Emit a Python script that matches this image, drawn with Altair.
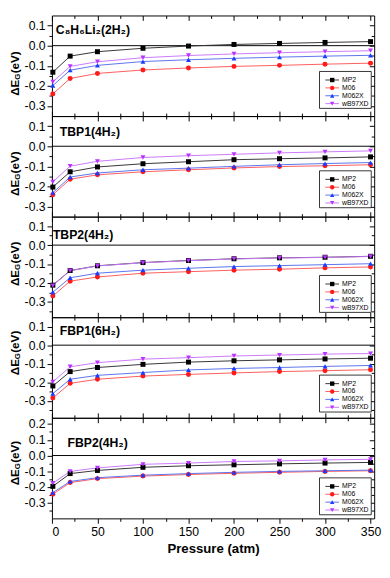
import altair as alt
import pandas as pd

PRESSURE = [1, 20, 50, 100, 150, 200, 250, 300, 350]
METHODS = ["MP2", "M06", "M062X", "wB97XD"]
PANEL_TITLES = ["C\u2088H\u2086Li\u2082(2H\u2082)", "TBP1(4H\u2082)", "TBP2(4H\u2082)",
                "FBP1(6H\u2082)", "FBP2(4H\u2082)"]
X_MAJOR = [0, 50, 100, 150, 200, 250, 300, 350]
X_MINOR = [25, 75, 125, 175, 225, 275, 325]

# panel 1: C8H6Li2(2H2)
P1_MP2 = [-0.132, -0.052, -0.030, -0.013, -0.002, 0.006, 0.011, 0.016, 0.020]
P1_M06 = [-0.240, -0.163, -0.138, -0.121, -0.111, -0.103, -0.098, -0.092, -0.087]
P1_M062X = [-0.198, -0.122, -0.098, -0.079, -0.070, -0.063, -0.057, -0.052, -0.048]
P1_WB97XD = [-0.180, -0.103, -0.080, -0.060, -0.049, -0.041, -0.035, -0.030, -0.025]
# panel 2: TBP1(4H2)
P2_MP2 = [-0.203, -0.127, -0.103, -0.087, -0.077, -0.067, -0.062, -0.058, -0.053]
P2_M06 = [-0.241, -0.164, -0.142, -0.127, -0.117, -0.108, -0.101, -0.097, -0.092]
P2_M062X = [-0.231, -0.153, -0.133, -0.117, -0.109, -0.100, -0.092, -0.086, -0.081]
P2_WB97XD = [-0.177, -0.099, -0.075, -0.056, -0.047, -0.040, -0.033, -0.028, -0.023]
# panel 3: TBP2(4H2)
P3_MP2 = [-0.211, -0.134, -0.109, -0.092, -0.081, -0.072, -0.067, -0.064, -0.059]
P3_M06 = [-0.268, -0.190, -0.168, -0.148, -0.140, -0.132, -0.127, -0.120, -0.115]
P3_M062X = [-0.248, -0.172, -0.148, -0.132, -0.122, -0.113, -0.108, -0.103, -0.098]
P3_WB97XD = [-0.213, -0.135, -0.110, -0.093, -0.082, -0.073, -0.068, -0.065, -0.060]
# panel 4: FBP1(6H2)
P4_MP2 = [-0.219, -0.142, -0.120, -0.103, -0.091, -0.084, -0.079, -0.074, -0.070]
P4_M06 = [-0.284, -0.205, -0.183, -0.166, -0.157, -0.149, -0.142, -0.137, -0.132]
P4_M062X = [-0.260, -0.183, -0.162, -0.147, -0.133, -0.125, -0.120, -0.114, -0.109]
P4_WB97XD = [-0.197, -0.116, -0.094, -0.075, -0.067, -0.058, -0.053, -0.048, -0.045]
# panel 5: FBP2(4H2)
P5_MP2 = [-0.196, -0.115, -0.095, -0.075, -0.065, -0.059, -0.053, -0.048, -0.044]
P5_M06 = [-0.246, -0.172, -0.147, -0.131, -0.121, -0.113, -0.107, -0.101, -0.097]
P5_M062X = [-0.236, -0.165, -0.141, -0.125, -0.115, -0.107, -0.101, -0.097, -0.093]
P5_WB97XD = [-0.176, -0.101, -0.079, -0.056, -0.048, -0.038, -0.034, -0.028, -0.024]

PANELS = [
    [P1_MP2, P1_M06, P1_M062X, P1_WB97XD],
    [P2_MP2, P2_M06, P2_M062X, P2_WB97XD],
    [P3_MP2, P3_M06, P3_M062X, P3_WB97XD],
    [P4_MP2, P4_M06, P4_M062X, P4_WB97XD],
    [P5_MP2, P5_M06, P5_M062X, P5_WB97XD],
]
Y_DOMAINS = [[-0.35, 0.15], [-0.35, 0.15], [-0.38, 0.15], [-0.39, 0.15], [-0.40, 0.24]]
Y_MAJOR = [[-0.3, -0.2, -0.1, 0.0, 0.1]] * 4 + [[-0.3, -0.2, -0.1, 0.0, 0.1, 0.2]]
Y_MINOR = [[-0.25, -0.15, -0.05, 0.05]] * 2 + [[-0.35, -0.25, -0.15, -0.05, 0.05]] * 2 + \
          [[-0.35, -0.25, -0.15, -0.05, 0.05, 0.15]]

# layout (pixels, relative to each panel)
W, H = 330, 103
S = H / 106.0
TITLE_X = [4, 8, 1, 8, 16]
TITLE_Y = [15, 17, 19, 15, 26.7]
YLAB_C = [61.5, 61, 50, 38, 48]
LEG_Y0 = [68, 66.7, 71, 70, 72.3]
LEG_DY = 8.3

FONT = "Liberation Sans"
MARK_COLORS = ["#000000", "#ff1a1a", "#1a3cff", "#bb33ff"]
LINE_COLORS = ["#333333", "#ff5a5a", "#5a72ee", "#cc77ff"]
SHAPES = ["square", "circle", "triangle-up", "triangle-down"]

LABEL_EXPR = "datum.value < -0.0001 ? '-' + format(-datum.value, '.1f') : format(abs(datum.value), '.1f')"


def tick_axis(orient, values, size, offset=0, **kw):
    args = dict(orient=orient, values=values, tickSize=size, domain=False, grid=False,
                tickColor="black", tickWidth=1, labels=False, title=None)
    if offset:
        args["offset"] = offset
    args.update(kw)
    return alt.Axis(**args)


def make_panel(k):
    rows = []
    for m, vals in zip(METHODS, PANELS[k]):
        for p, v in zip(PRESSURE, vals):
            rows.append({"pressure": p, "method": m, "value": v})
    df = pd.DataFrame(rows)
    last = k == len(PANELS) - 1

    xs = alt.Scale(domain=[0, 354], nice=False, zero=False)
    ys = alt.Scale(domain=Y_DOMAINS[k], nice=False, zero=False)

    if last:
        xa_bot = tick_axis("bottom", X_MAJOR, 5, labels=True, labelFont=FONT, labelFontSize=12.5,
                           labelColor="black", labelPadding=3, format="d",
                           title="Pressure (atm)", titleFont=FONT, titleFontSize=13.5,
                           titleFontWeight="bold", titleColor="black", titlePadding=3)
        xa_bot_min = tick_axis("bottom", X_MINOR, 3)
    else:
        xa_bot = tick_axis("top", X_MAJOR, 5, offset=-H)
        xa_bot_min = tick_axis("top", X_MINOR, 3, offset=-H)
    xa_top = tick_axis("bottom", X_MAJOR, 5, offset=-H)
    xa_top_min = tick_axis("bottom", X_MINOR, 3, offset=-H)

    ya_left = tick_axis("left", Y_MAJOR[k], 5, labels=True, labelFont=FONT, labelFontSize=12.5,
                        labelColor="black", labelPadding=2, labelExpr=LABEL_EXPR)
    ya_left_min = tick_axis("left", Y_MINOR[k], 3)
    ya_right = tick_axis("left", Y_MAJOR[k], 5, offset=-W)
    ya_right_min = tick_axis("left", Y_MINOR[k], 3, offset=-W)

    base = alt.Chart(df)
    stroke_scale = alt.Scale(domain=METHODS, range=LINE_COLORS)
    color_scale = alt.Scale(domain=METHODS, range=MARK_COLORS)
    shape_scale = alt.Scale(domain=METHODS, range=SHAPES)

    zero = alt.Chart(pd.DataFrame({"z": [0.0]})).mark_rule(color="black", strokeWidth=1).encode(
        y=alt.Y("z:Q", scale=ys, axis=None))

    lines = base.mark_line(strokeWidth=1).encode(
        x=alt.X("pressure:Q", scale=xs, axis=xa_bot),
        y=alt.Y("value:Q", scale=ys, axis=ya_left),
        stroke=alt.Stroke("method:N", scale=stroke_scale, legend=None),
    )
    points = base.mark_point(filled=True, opacity=1, size=26).encode(
        x=alt.X("pressure:Q", scale=xs, axis=xa_bot_min),
        y=alt.Y("value:Q", scale=ys, axis=ya_left_min),
        color=alt.Color("method:N", scale=color_scale, legend=None),
        shape=alt.Shape("method:N", scale=shape_scale, legend=None),
    )
    ghost1 = base.mark_point(opacity=0).encode(
        x=alt.X("pressure:Q", scale=xs, axis=xa_top),
        y=alt.Y("value:Q", scale=ys, axis=ya_right),
    )
    ghost2 = base.mark_point(opacity=0).encode(
        x=alt.X("pressure:Q", scale=xs, axis=xa_top_min),
        y=alt.Y("value:Q", scale=ys, axis=ya_right_min),
    )

    one = alt.Chart(pd.DataFrame({"a": [0]}))
    title = one.mark_text(align="left", baseline="middle", font=FONT, fontSize=12.5,
                          fontWeight="bold", color="black").encode(
        x=alt.value(TITLE_X[k]), y=alt.value(TITLE_Y[k] * S), text=alt.value(PANEL_TITLES[k]))

    # y-axis title  ΔE_G(eV), rotated
    yb = YLAB_C[k] * S + 22.5
    xl = -38
    yt1 = one.mark_text(align="left", baseline="middle", angle=270, font=FONT, fontSize=12,
                        fontWeight="bold", color="black").encode(
        x=alt.value(xl), y=alt.value(yb), text=alt.value("\u0394E"))
    yt2 = one.mark_text(align="left", baseline="middle", angle=270, font=FONT, fontSize=8,
                        fontWeight="bold", color="black").encode(
        x=alt.value(xl + 3.5), y=alt.value(yb - 16.5), text=alt.value("G"))
    yt3 = one.mark_text(align="left", baseline="middle", angle=270, font=FONT, fontSize=12,
                        fontWeight="bold", color="black").encode(
        x=alt.value(xl), y=alt.value(yb - 23), text=alt.value("(eV)"))

    # legend box
    y0 = LEG_Y0[k] * S
    box = one.mark_rect(fill="white", stroke="black", strokeWidth=0.8).encode(
        x=alt.value(274), x2=alt.value(327),
        y=alt.value(y0 - 9 * S), y2=alt.value(y0 + (3 * LEG_DY + 5) * S))
    leg = alt.Chart(pd.DataFrame({"method": METHODS, "i": list(range(len(METHODS)))})).transform_calculate(
        ly=f"{y0} + datum.i * {LEG_DY * S}")
    leg_line = leg.mark_rule(strokeWidth=1).encode(
        x=alt.value(280), x2=alt.value(294),
        y=alt.Y("ly:Q", scale=None, axis=None),
        stroke=alt.Stroke("method:N", scale=stroke_scale, legend=None))
    leg_pt = leg.mark_point(filled=True, opacity=1, size=20).encode(
        x=alt.value(287),
        y=alt.Y("ly:Q", scale=None, axis=None),
        color=alt.Color("method:N", scale=color_scale, legend=None),
        shape=alt.Shape("method:N", scale=shape_scale, legend=None))
    leg_txt = leg.mark_text(align="left", baseline="middle", font=FONT, fontSize=7,
                            color="black").encode(
        x=alt.value(297),
        y=alt.Y("ly:Q", scale=None, axis=None),
        text="method:N")

    return alt.layer(zero, lines, points, ghost1, ghost2, title, yt1, yt2, yt3,
                     box, leg_line, leg_pt, leg_txt).resolve_axis(
        x="independent", y="independent").properties(width=W, height=H)


chart = alt.vconcat(*[make_panel(k) for k in range(len(PANELS))], spacing=0,
                    bounds="flush").properties(
    padding=0, background="white"
).configure_view(stroke="black", strokeWidth=1)

chart.save("out.html", embed_options={"renderer": "svg", "actions": False})
